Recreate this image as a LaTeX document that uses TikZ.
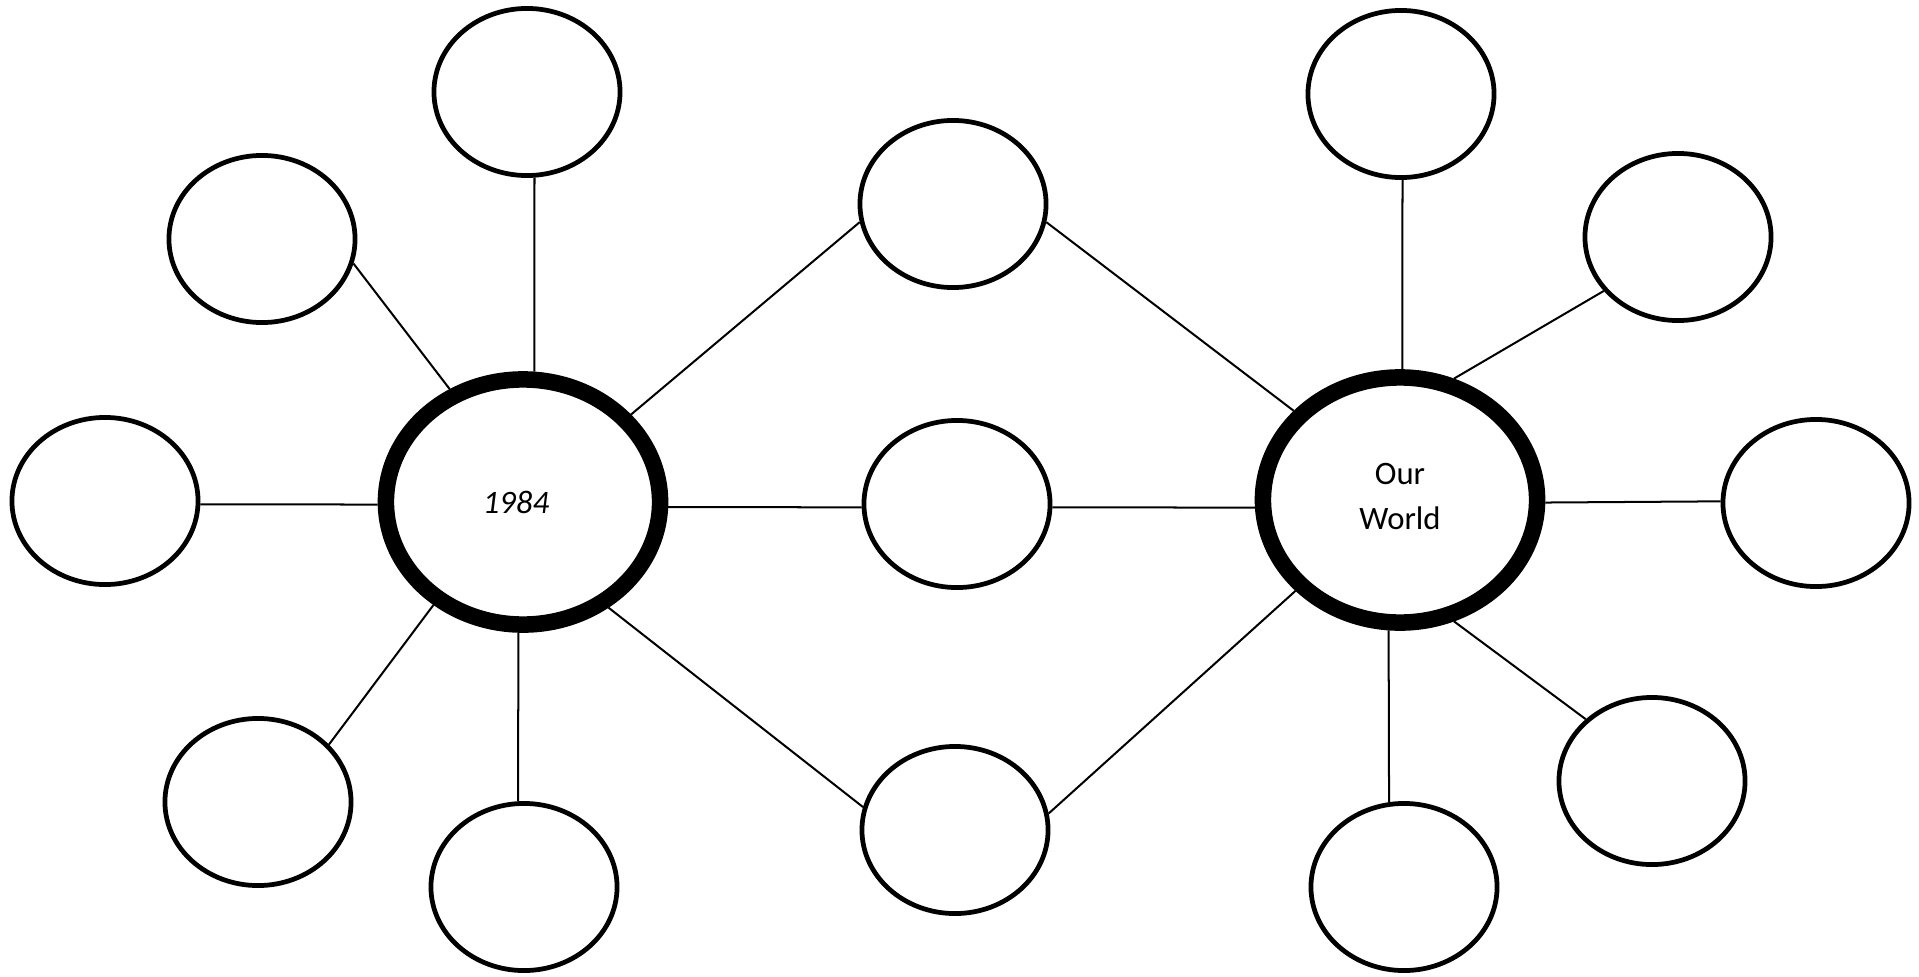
\documentclass[tikz,border=0pt]{standalone}
\usepackage{fontspec}
\setmainfont{Carlito}
\usepackage{tikz}
\usetikzlibrary{shapes.geometric}

\begin{document}
\begin{tikzpicture}[
    x=0.01cm, y=-0.01cm,
    bubble/.style={ellipse, draw, line width=1.35pt, inner sep=0pt, minimum width=1.86cm, minimum height=1.67cm},
    hub/.style={ellipse, draw, line width=4.7pt, inner sep=0pt, minimum width=2.74cm, minimum height=2.45cm, align=center, font=\fontsize{9.3}{12.8}\selectfont},
    link/.style={line width=0.57pt}
]
    \useasboundingbox (0,0) rectangle (1919,976);

    % the two hubs
    \node[hub] (novel) at (523,502) {\textit{1984}\hspace{4pt}};
    \node[hub] (world) at (1400,500) {Our\\World\\[-10.8pt]\mbox{}};

    % bubbles round 1984
    \node[bubble] (novtop) at (527,92) {};
    \node[bubble] (novul) at (262,239) {};
    \node[bubble] (novleft) at (105,501) {};
    \node[bubble] (novll) at (258,802) {};
    \node[bubble] (novbot) at (524,887) {};

    % shared bubbles
    \node[bubble] (midtop) at (953,204) {};
    \node[bubble] (midmid) at (957,504) {};
    \node[bubble] (midbot) at (955,830) {};

    % bubbles round Our World
    \node[bubble] (wldtop) at (1401,94) {};
    \node[bubble] (wldur) at (1678,237) {};
    \node[bubble] (wldright) at (1816,503) {};
    \node[bubble] (wldlr) at (1652,781) {};
    \node[bubble] (wldbot) at (1404,887) {};

    \draw[link] (novleft.-2) -- (novel.181);
    \draw[link] (novul.-15) -- (novel.123);
    \draw[link] (novtop.275) -- (novel.85);
    \draw[link] (novel.39) -- (midtop.191);
    \draw[link] (novel.-2) -- (midmid.182);
    \draw[link] (novel.-51) -- (midbot.166);
    \draw[link] (novel.229) -- (novll.39);
    \draw[link] (novel.268) -- (novbot.94);

    \draw[link] (midtop.-11) -- (world.140);
    \draw[link] (midmid.-2) -- (world.183);
    \draw[link] (midbot.10) -- (world.221);
    \draw[link] (wldtop.271) -- (world.89);
    \draw[link] (wldur.216) -- (world.66);
    \draw[link] (world.-1) -- (wldright.179);
    \draw[link] (world.-66) -- (wldlr.137);
    \draw[link] (world.265) -- (wldbot.100);
\end{tikzpicture}
\end{document}
